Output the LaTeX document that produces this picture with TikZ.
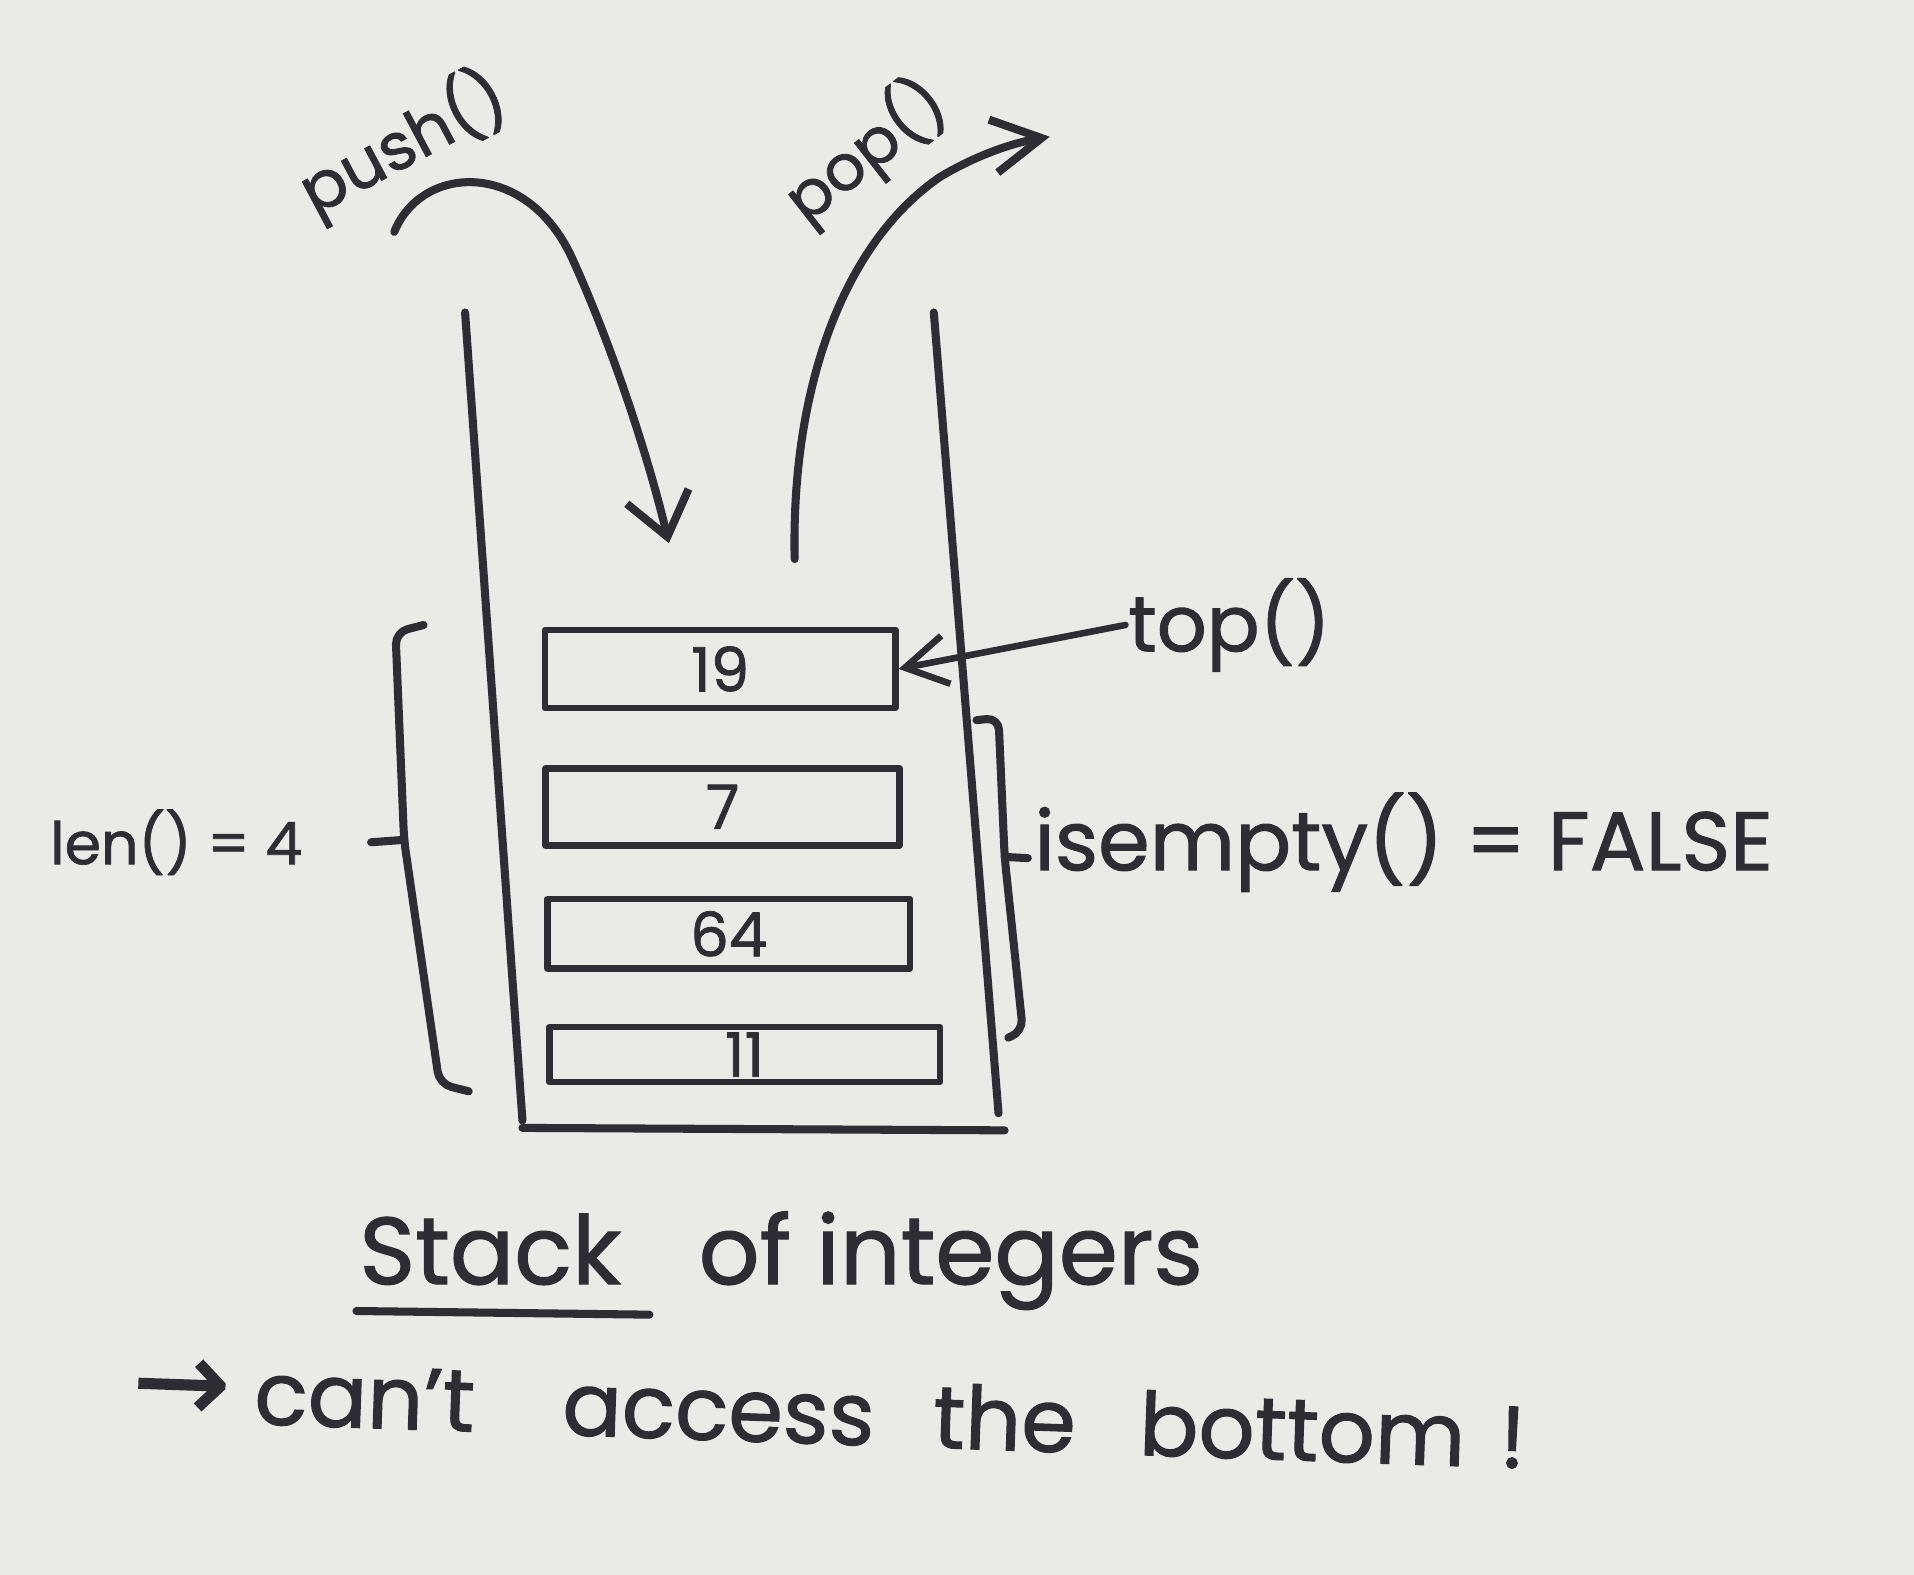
\documentclass[tikz,border=0pt]{standalone}
\usepackage{fontspec}
\setmainfont{Poppins}
\newfontfamily\handfont{Poppins}[FakeBold=1.2]
\newfontfamily\symfont{DejaVu Sans}[FakeBold=1.2]
\usetikzlibrary{arrows.meta,positioning}

\definecolor{ink}{RGB}{48,44,52}
\definecolor{paper}{RGB}{234,234,231}

\tikzset{
  pen/.style={draw=ink, line width=3.3pt, line cap=round, line join=round},
  thinpen/.style={draw=ink, line width=2.7pt, line cap=round, line join=round},
  cell/.style={thinpen, rectangle, inner sep=0pt, text=ink, font=\handfont\fontsize{25}{27}\selectfont},
  hand/.style={text=ink, inner sep=1pt},
  barb/.style={-{Straight Barb[length=17pt,width=26pt]}},
}

\begin{document}
\begin{tikzpicture}[x=0.5pt,y=-0.5pt]
\useasboundingbox (0,0) rectangle (1568,1290);
\fill[paper] (0,0) rectangle (1568,1290);

% walls of the stack
\draw[pen] (381,256) -- (428,918);
\draw[pen] (765,256) -- (818,912);
\draw[pen] (428,924) -- (823,926);

% the four integers
\node[cell, minimum width=143.5pt, minimum height=32pt] (c19) at (590,548) {19};
\node[cell, minimum width=145pt, minimum height=31.5pt] (c7) at (592,661) {7};
\node[cell, minimum width=148.5pt, minimum height=28.5pt] (c64) at (597,765) {64};
\node[cell, minimum width=160pt, minimum height=22.5pt] (c11) at (610,864) {11};

% push
\coordinate (pushs) at (323,190);
\coordinate (pushe) at (548,445);
\draw[pen, barb] (pushs) .. controls (345,135) and (430,130) .. (468,210) .. controls (500,280) and (530,370) .. (pushe);
\node[hand, rotate=28, font=\handfont\fontsize{27}{29}\selectfont] (pushlbl) at (330,118) {push()};

% pop
\coordinate (pops) at (651,458);
\coordinate (pope) at (860,112);
\draw[pen, -{Straight Barb[length=20pt,width=22pt]}] (pops) .. controls (648,320) and (690,200) .. (770,145) .. controls (800,127) and (830,117) .. (pope);
\node[hand, rotate=38, font=\handfont\fontsize{26}{28}\selectfont] (poplbl) at (709,124) {pop()};

% top
\node[hand, anchor=west, font=\handfont\fontsize{32}{34}\selectfont] (toplbl) at (922,512) {top()};
\draw[thinpen, -{Straight Barb[length=17pt,width=20pt]}] (toplbl.west) -- (c19.east);

% len brace
\coordinate (lcusp) at (331,688);
\draw[pen, rounded corners=5pt] (347,512) -- (324,518) -- (lcusp) -- (360,888) -- (384,894);
\draw[pen] (lcusp) -- (304,690);
\node[hand, anchor=east, font=\handfont\fontsize{24}{26}\selectfont] (lenlbl) at (250,690) {len() = 4};

% isempty brace
\coordinate (rcusp) at (823,702);
\draw[pen, rounded corners=5pt] (800,590) -- (818,588) -- (rcusp) -- (838,845) -- (826,850);
\draw[pen] (rcusp) -- (842,703);
\node[hand, anchor=west, font=\handfont\fontsize{34}{36}\selectfont] (emptylbl) at (845,690) {isempty() = FALSE};

% caption
\node[hand, anchor=base west, font=\handfont\fontsize{39}{42}\selectfont] (stk) at (292,1052) {Stack};
\node[hand, anchor=base west, font=\handfont\fontsize{39}{42}\selectfont] (ints) at (570,1052) {of integers};
\draw[pen] ([yshift=-11pt]stk.base west) -- +(240,3);
\node[hand, anchor=base west, rotate=-2, font=\handfont\fontsize{36}{40}\selectfont] (note) at (105,1163)
  {{\symfont\fontsize{48}{48}\selectfont →}\hspace{10pt}can’t\hspace{36pt}access\hspace{24pt}the\hspace{26pt}bottom\hspace{14pt}!};
\end{tikzpicture}
\end{document}
